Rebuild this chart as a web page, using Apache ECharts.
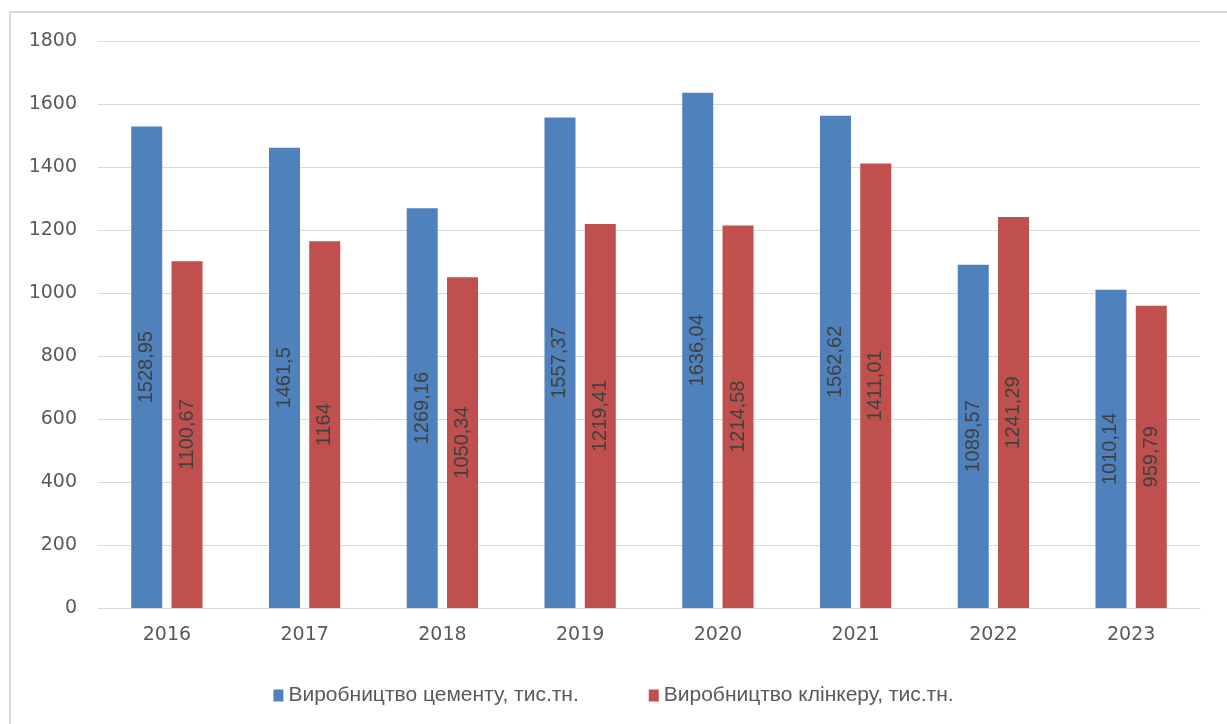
<!DOCTYPE html>
<html>
<head>
<meta charset="utf-8">
<script src="https://cdn.jsdelivr.net/npm/echarts@6/dist/echarts.min.js"></script>
<style>
html,body{margin:0;padding:0;background:#fff;}
#chart{width:1227px;height:724px;}
</style>
</head>
<body>
<div id="chart"></div>
<script>
const categories = ['2016','2017','2018','2019','2020','2021','2022','2023'];
const cementValues = [1528.95, 1461.5, 1269.16, 1557.37, 1636.04, 1562.62, 1089.57, 1010.14];
const clinkerValues = [1100.67, 1164, 1050.34, 1219.41, 1214.58, 1411.01, 1241.29, 959.79];
const cementName = 'Виробництво цементу, тис.тн.';
const clinkerName = 'Виробництво клінкеру, тис.тн.';
const yTicks = {min: 0, max: 1800, interval: 200};

const chart = echarts.init(document.getElementById('chart'), null, {renderer: 'canvas'});
const fmt = v => String(v).replace('.', ',');
const labelCfg = {
  show: true,
  position: 'inside',
  rotate: 90,
  color: '#404040',
  fontSize: 20,
  fontFamily: 'Liberation Sans, sans-serif',
  formatter: p => fmt(p.value)
};
chart.setOption({
  animation: false,
  graphic: [{
    type: 'rect',
    shape: {x: 10, y: 12, width: 1240, height: 740},
    style: {fill: 'none', stroke: '#d9d9d9', lineWidth: 2},
    silent: true
  }],
  grid: {left: 98, right: 27, top: 41, bottom: 116, containLabel: false},
  legend: {
    top: 680,
    left: 'center',
    itemWidth: 10,
    itemHeight: 12,
    itemGap: 70,
    icon: 'rect',
    textStyle: {color: '#595959', fontSize: 21, fontFamily: 'Liberation Sans, sans-serif'},
    data: [cementName, clinkerName]
  },
  xAxis: {
    type: 'category',
    data: categories,
    axisLine: {lineStyle: {color: '#d9d9d9'}},
    axisTick: {show: false},
    axisLabel: {color: '#595959', fontSize: 19, margin: 18, fontFamily: 'DejaVu Sans, sans-serif'}
  },
  yAxis: {
    type: 'value',
    min: yTicks.min,
    max: yTicks.max,
    interval: yTicks.interval,
    axisLine: {show: false},
    axisTick: {show: false},
    splitLine: {lineStyle: {color: '#d9d9d9', width: 1}},
    axisLabel: {color: '#595959', fontSize: 19, margin: 21, fontFamily: 'DejaVu Sans, sans-serif', formatter: v => String(v)}
  },
  series: [
    {
      name: cementName,
      type: 'bar',
      data: cementValues,
      barWidth: 31,
      barGap: '30%',
      itemStyle: {color: '#4F81BD'},
      label: labelCfg
    },
    {
      name: clinkerName,
      type: 'bar',
      data: clinkerValues,
      barWidth: 31,
      itemStyle: {color: '#C0504D'},
      label: labelCfg
    }
  ]
});
</script>
</body>
</html>
